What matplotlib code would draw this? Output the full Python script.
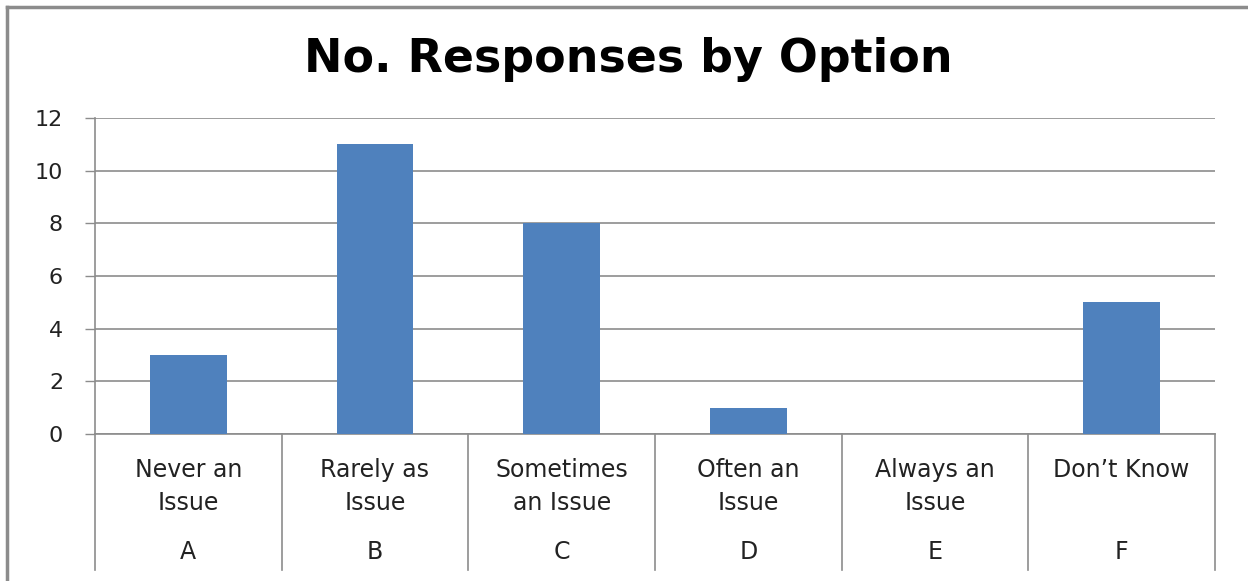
import matplotlib
matplotlib.use("Agg")
import matplotlib.pyplot as plt
from matplotlib.transforms import blended_transform_factory
from matplotlib.lines import Line2D

categories = ["Never an\nIssue", "Rarely as\nIssue", "Sometimes\nan Issue", "Often an\nIssue", "Always an\nIssue", "Don\u2019t Know"]
letters = ["A", "B", "C", "D", "E", "F"]
values = [3, 11, 8, 1, 0, 5]
yticks = [0, 2, 4, 6, 8, 10, 12]

W, H = 1248, 581
fig = plt.figure(figsize=(W / 100, H / 100), dpi=100)
plt.rcParams['font.family'] = ['DejaVu Sans']

def fx(px):
    return px / W

def fy(py):
    return 1 - py / H

# outer border (left and top)
fig.add_artist(Line2D([fx(7), fx(7)], [fy(581), fy(7)], transform=fig.transFigure, color="#8c8c8c", lw=2.5))
fig.add_artist(Line2D([fx(7), fx(1248)], [fy(7), fy(7)], transform=fig.transFigure, color="#8c8c8c", lw=2.5))

left, right, top, bottom = 95, 1215, 118, 434
ax = fig.add_axes([fx(left), fy(bottom), fx(right) - fx(left), fy(top) - fy(bottom)])

x = list(range(len(values)))
ax.bar(x, values, width=0.41, color="#4F81BD", zorder=3)
ax.set_xlim(-0.5, len(values) - 0.5)
ax.set_ylim(0, 12)
ax.set_yticks(yticks)
ax.set_yticklabels([str(t) for t in yticks], fontsize=16, color="#222222")
ax.tick_params(axis="y", length=7, width=1, color="#8c8c8c", pad=16)
ax.yaxis.grid(True, color="#8c8c8c", lw=1.2, zorder=0)
ax.set_xticks(x)
ax.set_xticklabels(categories, fontsize=17, color="#222222", linespacing=1.5)
ax.tick_params(axis="x", length=0, pad=17)
for s in ["top", "right"]:
    ax.spines[s].set_visible(False)
ax.spines["left"].set_color("#8c8c8c")
ax.spines["bottom"].set_color("#8c8c8c")
ax.spines["left"].set_linewidth(1.2)
ax.spines["bottom"].set_linewidth(1.2)

trans = blended_transform_factory(ax.transData, ax.transAxes)
depth = -(570 - bottom) / (bottom - top)
for i in range(len(values) + 1):
    ax.plot([i - 0.5, i - 0.5], [0, depth], transform=trans, color="#8c8c8c", lw=1.2, clip_on=False)
letter_y = -(552 - bottom) / (bottom - top)
for i, l in enumerate(letters):
    ax.text(i, letter_y, l, transform=trans, ha="center", va="center", fontsize=17, color="#222222")

fig.text(fx(628), fy(59), "No. Responses by Option", ha="center", va="center", fontsize=33, fontweight="bold", color="#000000")

fig.savefig("out.png", dpi=100)
